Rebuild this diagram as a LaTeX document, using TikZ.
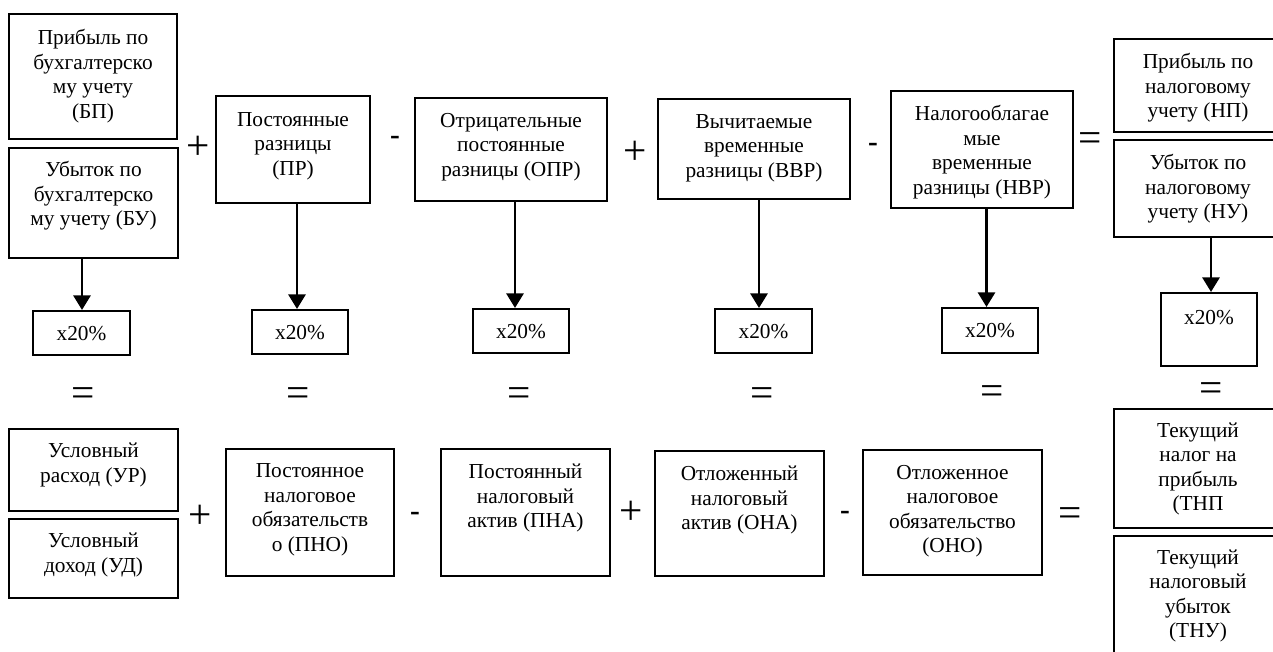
\documentclass[tikz,border=0pt]{standalone}
\usepackage{fontspec}
\setmainfont{Liberation Serif}
\usetikzlibrary{arrows.meta}
\newcommand\mybox[5]{\node[box, minimum width={(#4-(#2))*0.75pt}, minimum height={(#5-(#3))*0.75pt}] (#1) at ({(#2+#4)/2},{(#3+#5)/2}) {};}
\begin{document}
\begin{tikzpicture}[x=0.75pt,y=-0.75pt,
  box/.style={draw, line width=1.6pt, rectangle, inner sep=0pt},
  txt/.style={align=center, inner sep=0pt, font=\fontsize{16}{18.4}\selectfont},
  op/.style={inner sep=0pt, font=\fontsize{31}{33}\selectfont},
  minus/.style={inner sep=0pt, font=\fontsize{22}{24}\selectfont\bfseries},
  arr/.style={line width=1.7pt, -{Triangle[width=13pt,length=11pt]}}]
\useasboundingbox (0,0) rectangle (1273,651);
\clip (0,0) rectangle (1273,651);

% top row boxes
\mybox{bp}{9}{14}{177}{139}
\node[txt] (bpt) at (93,76) {Прибыль по\\бухгалтерско\\му учету\\(БП)};
\mybox{bu}{9}{148}{178}{258}
\node[txt] (but) at (93.5,196) {Убыток по\\бухгалтерско\\му учету (БУ)};
\mybox{pr}{216}{96}{370}{203}
\node[txt] (prt) at (293,146) {Постоянные\\разницы\\(ПР)};
\mybox{opr}{415}{98}{607}{201}
\node[txt] (oprt) at (511,147) {Отрицательные\\постоянные\\разницы (ОПР)};
\mybox{vvr}{658}{99}{850}{199}
\node[txt] (vvrt) at (754,148) {Вычитаемые\\временные\\разницы (ВВР)};
\mybox{nvr}{891}{91}{1073}{208}
\node[txt] (nvrt) at (982,152) {Налогооблагае\\мые\\временные\\разницы (НВР)};
\mybox{np}{1114}{39}{1282}{132}
\node[txt] (npt) at (1198,88) {Прибыль по\\налоговому\\учету (НП)};
\mybox{nu}{1114}{140}{1282}{237}
\node[txt] (nut) at (1198,189) {Убыток по\\налоговому\\учету (НУ)};

% top operators
\node[op] (o1) at (198,148) {+};
\node[minus] (o2) at (395,140) {-};
\node[op] (o3) at (635,153) {+};
\node[minus] (o4) at (873,147) {-};
\node[op] (o5) at (1090,142) {=};

% x20% boxes
\mybox{m1}{33}{311}{130}{355}
\node[txt] (m1t) at (81.5,334) {x20\%};
\mybox{m2}{252}{310}{348}{354}
\node[txt] (m2t) at (300,333) {x20\%};
\mybox{m3}{473}{309}{569}{353}
\node[txt] (m3t) at (521,332) {x20\%};
\mybox{m4}{715}{309}{812}{353}
\node[txt] (m4t) at (763.5,332) {x20\%};
\mybox{m5}{942}{308}{1038}{353}
\node[txt] (m5t) at (990,331) {x20\%};
\mybox{m6}{1161}{293}{1257}{366}
\node[txt] (m6t) at (1209,318) {x20\%};

% arrows
\draw[arr] ([xshift=-8.625pt]bu.south) -- ([xshift=-8.625pt]bu.south |- m1.north);
\draw[arr] ([xshift=3pt]pr.south) -- ([xshift=3pt]pr.south |- m2.north);
\draw[arr] ([xshift=3pt]opr.south) -- ([xshift=3pt]opr.south |- m3.north);
\draw[arr] ([xshift=3.75pt]vvr.south) -- ([xshift=3.75pt]vvr.south |- m4.north);
\draw[arr] ([xshift=3.375pt]nvr.south) -- ([xshift=3.375pt]nvr.south |- m5.north);
\draw[arr] ([xshift=9.75pt]nu.south) -- ([xshift=9.75pt]nu.south |- m6.north);

% middle equals
\node[op] (e1) at (83,397) {=};
\node[op] (e2) at (298,397) {=};
\node[op] (e3) at (519,397) {=};
\node[op] (e4) at (762,397) {=};
\node[op] (e5) at (992,395) {=};
\node[op] (e6) at (1211,392) {=};

% bottom row boxes
\mybox{ur}{9}{429}{178}{511}
\node[txt] (urt) at (93.5,465) {Условный\\расход (УР)};
\mybox{ud}{9}{519}{178}{598}
\node[txt] (udt) at (93.5,555) {Условный\\доход (УД)};
\mybox{pno}{226}{449}{394}{576}
\node[txt] (pnot) at (310,510) {Постоянное\\налоговое\\обязательств\\о (ПНО)};
\mybox{pna}{441}{449}{610}{576}
\node[txt] (pnat) at (525.5,498) {Постоянный\\налоговый\\актив (ПНА)};
\mybox{ona}{655}{451}{824}{576}
\node[txt] (onat) at (739.5,500) {Отложенный\\налоговый\\актив (ОНА)};
\mybox{ono}{863}{450}{1042}{575}
\node[txt] (onot) at (952.5,511) {Отложенное\\налоговое\\обязательство\\(ОНО)};
\mybox{tnp}{1114}{409}{1282}{528}
\node[txt] (tnpt) at (1198,469) {Текущий\\налог на\\прибыль\\(ТНП};
\mybox{tnu}{1114}{536}{1282}{656}
\node[txt] (tnut) at (1198,596) {Текущий\\налоговый\\убыток\\(ТНУ)};

% bottom operators
\node[op] (b1) at (200,517) {+};
\node[minus] (b2) at (415,516) {-};
\node[op] (b3) at (631,513) {+};
\node[minus] (b4) at (845,515) {-};
\node[op] (b5) at (1070,517) {=};
\end{tikzpicture}
\end{document}
